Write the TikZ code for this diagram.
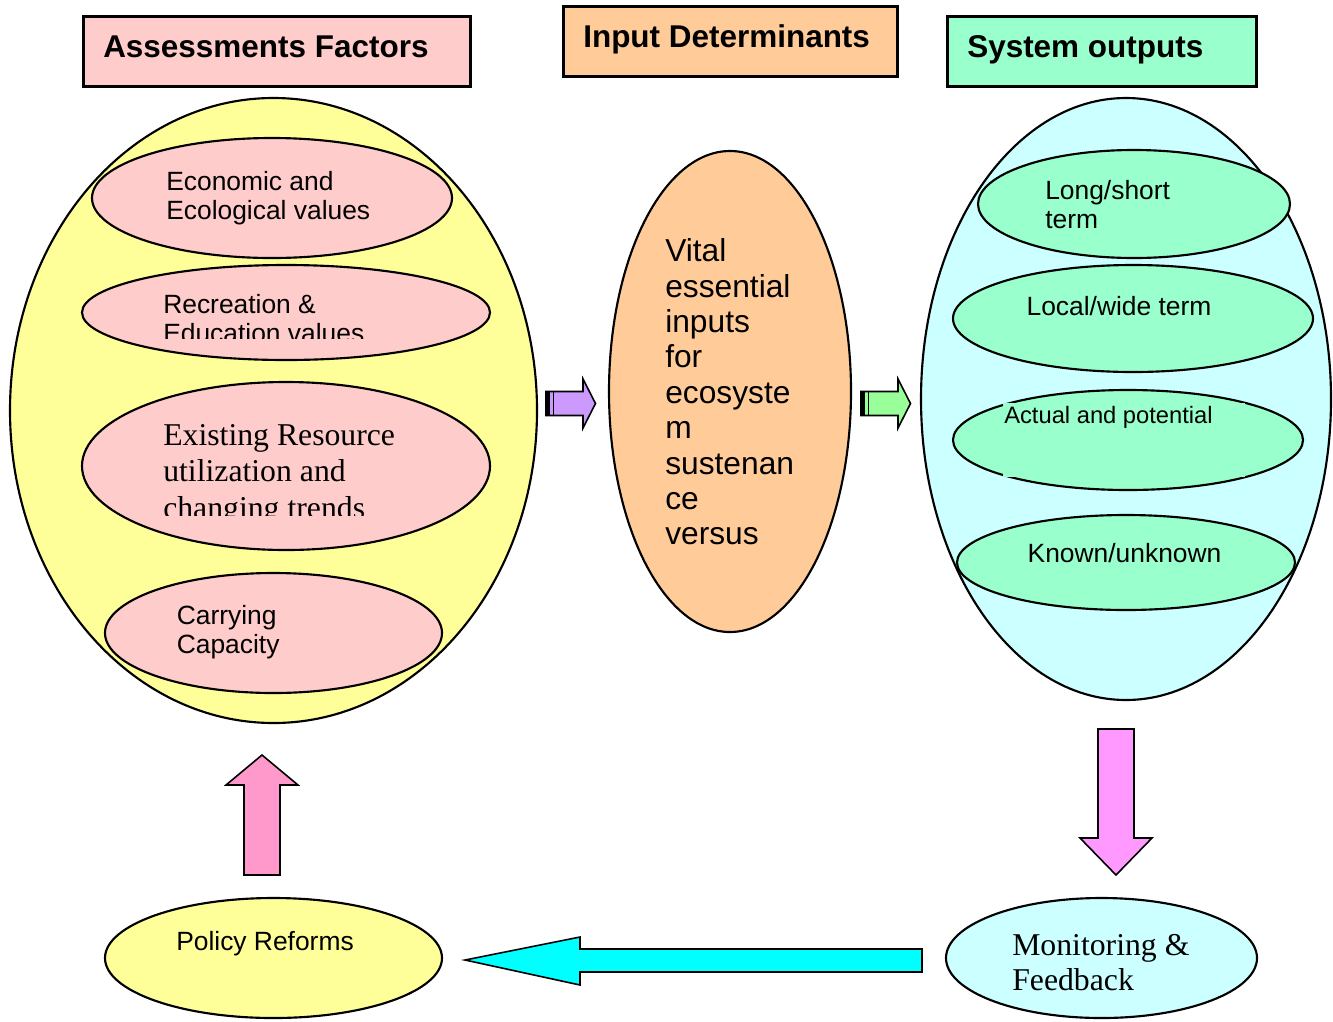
\documentclass[tikz,border=0pt]{standalone}
\usepackage{fontspec}
\setmainfont{Liberation Serif}
\setsansfont{Liberation Sans}
\usetikzlibrary{shapes.geometric}
\definecolor{pinkf}{HTML}{FFCCCC}
\definecolor{orangef}{HTML}{FFCC99}
\definecolor{mintf}{HTML}{99FFCC}
\definecolor{yelf}{HTML}{FFFF99}
\definecolor{cyanf}{HTML}{CCFFFF}
\definecolor{purpf}{HTML}{CC99FF}
\definecolor{greenf}{HTML}{99FF99}
\definecolor{magf}{HTML}{FF99FF}
\definecolor{rosef}{HTML}{FF99CC}
\definecolor{aquaf}{HTML}{00FFFF}
\begin{document}
\begin{tikzpicture}[x=0.75pt,y=-0.75pt,
  ell/.style 2 args={ellipse, draw=black, line width=1.6pt, inner sep=0pt,
     minimum width=#1*0.75pt, minimum height=#2*0.75pt},
  hdr/.style 2 args={rectangle, draw=black, line width=2.25pt, inner sep=0pt,
     minimum width=#1*0.75pt, minimum height=#2*0.75pt},
  hd/.style={font=\sffamily\bfseries\fontsize{23.6}{26}\selectfont, inner sep=0pt, anchor=base west},
  sm/.style={font=\sffamily\fontsize{19.8}{22.1}\selectfont, align=left, inner sep=0pt, anchor=base west},
  lg/.style={font=\sffamily\fontsize{23.8}{26.55}\selectfont, align=left, inner sep=0pt, anchor=base west},
  tm/.style={font=\rmfamily\fontsize{23.8}{27.4}\selectfont, align=left, inner sep=0pt, anchor=base west},
  blockarrow/.style={draw=black, line width=1.2pt, line join=miter}
]
\useasboundingbox (0,0) rectangle (1333,1021);

% headers
\node[hdr={387}{70}, fill=pinkf] (H1) at (277,51.5) {};
\node[hd] (H1t) at (103,57) {Assessments Factors};
\node[hdr={334}{70}, fill=orangef] (H2) at (730.5,41.5) {};
\node[hd] (H2t) at (583,47) {Input Determinants};
\node[hdr={309}{70}, fill=mintf] (H3) at (1102,51.5) {};
\node[hd] (H3t) at (967,57) {System outputs};

% left big ellipse
\node[ell={527}{625}, fill=yelf] (Y) at (273.5,410.5) {};
\node[ell={360}{120}, fill=pinkf] (E1) at (272,198) {};
\node[ell={408}{95}, fill=pinkf] (E2) at (286,312.5) {};
\node[ell={408}{168}, fill=pinkf] (E3) at (286,466) {};
\node[ell={337}{120}, fill=pinkf] (E4) at (273.5,633) {};
% (base anchor of a multi-line node = baseline of its last line)
\node[sm] (E1t) at (166,219.5) {Economic and\\Ecological values};
\begin{scope}
  \clip (150,280) rectangle (480,338);
  \node[sm] (E2t) at (163,342.5) {Recreation \&\\Education values};
\end{scope}
\begin{scope}
  \clip (150,400) rectangle (480,515);
  \node[tm] (E3t) at (163,518.1) {Existing Resource\\utilization and\\changing trends};
\end{scope}
\node[sm] (E4t) at (176.5,653.5) {Carrying\\Capacity};

% middle
\node[ell={242}{481}, fill=orangef] (O) at (730,391.5) {};
\node[lg] (Ot) at (665,544.9) {Vital\\essential\\inputs\\for\\ecosyste\\m\\sustenan\\ce\\versus};

% right big ellipse
\node[ell={410}{602}, fill=cyanf] (C) at (1126,399) {};
\node[ell={312}{108}, fill=mintf] (G1) at (1134,204) {};
\node[ell={360}{107}, fill=mintf] (G2) at (1133,318.5) {};
\node[ell={350}{100}, fill=mintf] (G3) at (1128,440) {};
\node[ell={338}{95}, fill=mintf] (G4) at (1126,562.5) {};
\node[sm] (G1t) at (1045,228.5) {Long/short\\term};
\node[sm, anchor=base] (G2t) at (1119,315) {Local/wide term};
\fill[mintf] (1003,403) rectangle (1245,477);
\node[sm, font=\sffamily\fontsize{17.8}{20}\selectfont] (G3t) at (1004,423) {Actual and potential};
\node[sm, anchor=base] (G4t) at (1124.5,562) {Known/unknown};

% bottom ellipses
\node[ell={337}{120}, fill=yelf] (P) at (273.5,958) {};
\node[sm] (Pt) at (176,950) {Policy Reforms};
\node[ell={311}{120}, fill=cyanf] (M) at (1101.5,958) {};
\node[tm, font=\rmfamily\fontsize{23.8}{26.25}\selectfont] (Mt) at (1012,990) {Monitoring \&\\Feedback};

% small striped arrows
\draw[blockarrow, fill=purpf] (546,391.5) -- (583,391.5) -- (583,379) -- (595.5,403.5)
   -- (583,428) -- (583,415.5) -- (546,415.5) -- cycle;
\fill (546,391.5) rectangle (550,415.5);
\draw[line width=1pt] (553.3,391.5) -- (553.3,415.5);
\draw[blockarrow, fill=greenf] (861,391.5) -- (898,391.5) -- (898,379) -- (910.5,403.5)
   -- (898,428) -- (898,415.5) -- (861,415.5) -- cycle;
\fill (861,391.5) rectangle (865,415.5);
\draw[line width=1pt] (868.3,391.5) -- (868.3,415.5);

% big block arrows
\draw[blockarrow, fill=magf] (1098,729) -- (1134,729) -- (1134,838) -- (1152,838)
   -- (1116,875) -- (1080,838) -- (1098,838) -- cycle;
\draw[blockarrow, fill=rosef] (244,875) -- (244,785) -- (226,785) -- (262,755)
   -- (298,785) -- (280,785) -- (280,875) -- cycle;
\draw[blockarrow, fill=aquaf] (922,949) -- (580,949) -- (580,937) -- (465,960)
   -- (580,985) -- (580,972) -- (922,972) -- cycle;
\end{tikzpicture}
\end{document}
